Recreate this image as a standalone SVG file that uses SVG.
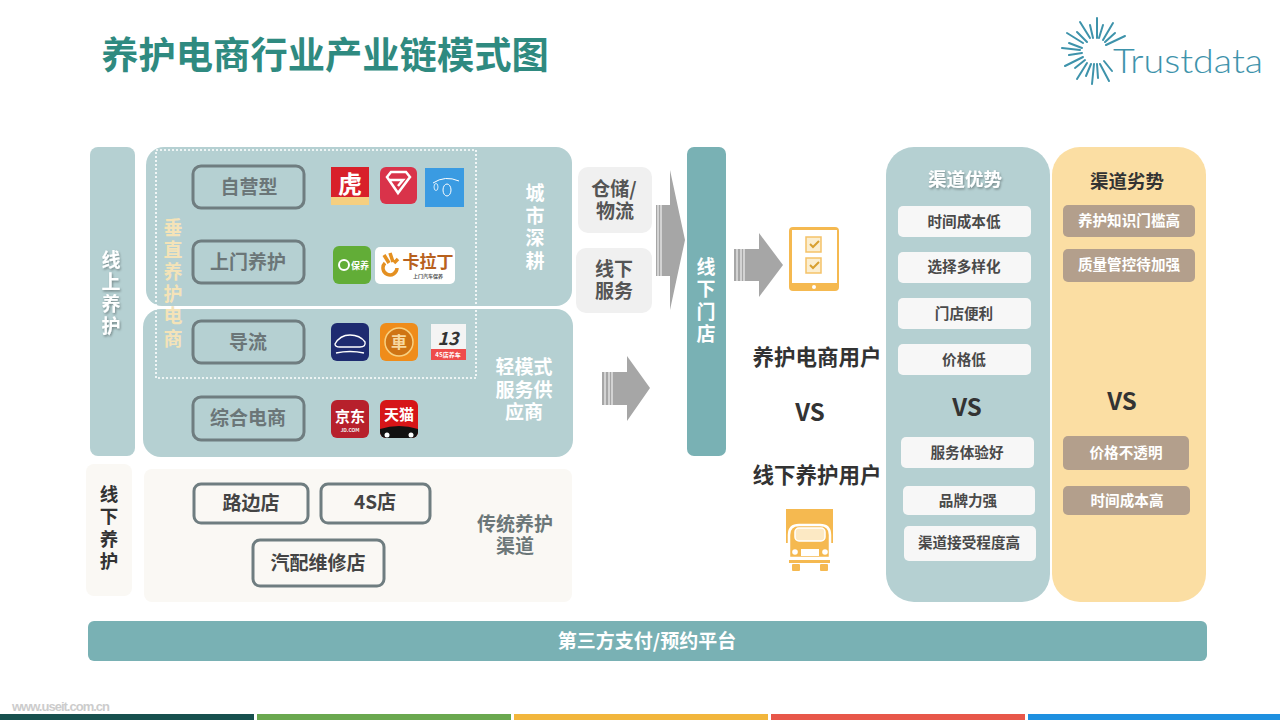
<svg xmlns="http://www.w3.org/2000/svg" width="1280" height="720" viewBox="0 0 1280 720">
<defs><filter id="sh" x="-30%" y="-30%" width="160%" height="160%"><feDropShadow dx="1" dy="1.5" stdDeviation="1.2" flood-color="#000" flood-opacity=".35"/></filter></defs>
<style>
text{font-family:"Noto Sans CJK SC","Liberation Sans",sans-serif;text-anchor:middle;font-weight:700}
.v{writing-mode:vertical-rl;text-anchor:start}
.t{fill:#b5d0d2}.box{fill:none;stroke:#6f7d80;stroke-width:3}
.g{fill:#6b7678;font-size:19px}.w{fill:#fff;font-size:19px}.k{fill:#333;font-size:21.5px}.s{fill:#555;font-size:19px}.n{fill:#444;font-size:19px}
.cw{fill:#f7f7f7}.ct{fill:#4a4a4a;font-size:14.6px}.br{fill:#b39f8c}.bw{fill:#fff;font-size:14.6px}
.o{fill:#f5b950}.a{fill:#a6a6a6}.ray{stroke:#3e93ab;stroke-width:2;stroke-linecap:round}
</style>
<rect width="1280" height="720" fill="#fff"/>
<text id="title" x="325" y="69" font-size="37.3" fill="#2f8a80">养护电商行业产业链模式图</text>
<g id="logo"><path class="ray" d="M1097 18V38M1090 25L1093 38M1080 22L1090 38M1077 32L1087 42M1067 33L1083 43M1069 43L1082 48M1062 48L1080 50M1069 55L1082 53M1065 66L1083 57M1075 68L1085 60M1077 79L1087 63M1086 76L1091 64M1092 84L1094 64M1098 78L1097 64M1109 81L1100 64M1112 71L1104 61M1099 38L1103 25M1103 40L1113 23M1105 42L1115 33M1106 45L1125 36"/>
<text x="1188" y="73" font-size="34" fill="#3e93ab" style="font-family:Lato,'Liberation Sans',sans-serif;font-weight:300" textLength="150" lengthAdjust="spacingAndGlyphs">Trustdata</text></g>
<g id="online"><rect class="t" x="90" y="147" width="45" height="309" rx="8"/><text class="w v" x="111" y="250.3" letter-spacing="3" filter="url(#sh)">线上养护</text></g>
<g id="city"><path class="t" d="M164 147H556a16 16 0 0 1 16 16V290a16 16 0 0 1-16 16H162a16 16 0 0 1-16-16V165a18 18 0 0 1 18-18z"/><text class="w v" x="535" y="183.3" letter-spacing="3.5">城市深耕</text></g>
<g id="light"><path class="t" d="M161 309H556a17 17 0 0 1 17 17V440a17 17 0 0 1-17 17H161a18 18 0 0 1-18-18V327a18 18 0 0 1 18-18z"/><text class="w"><tspan x="524" y="374">轻模式</tspan><tspan x="524" dy="23">服务供</tspan><tspan x="524" dy="22">应商</tspan></text></g>
<g id="n1"><rect class="box" x="193" y="166" width="111" height="42" rx="8"/><text class="g" x="249" y="194">自营型</text></g>
<g id="n2"><rect class="box" x="193" y="241" width="111" height="42" rx="8"/><text class="g" x="248" y="269">上门养护</text></g>
<g id="n3"><rect class="box" x="193" y="321" width="111" height="42" rx="8"/><text class="g" x="248" y="349">导流</text></g>
<g id="n4"><rect class="box" x="193" y="397" width="111" height="43" rx="8"/><text class="g" x="248" y="425">综合电商</text></g>
<rect id="vertical" x="156" y="150" width="320" height="228" fill="none" stroke="#fff" stroke-width="1.6" stroke-dasharray="2 2"/>
<g id="vlabel"><text class="v" x="173" y="218.3" fill="#f4e3b8" font-size="19" letter-spacing="3.1">垂直养护电商</text></g>
<g id="apps">
<rect x="331" y="167" width="38" height="38" fill="#d8202a"/><rect x="331" y="197" width="38" height="8" fill="#f5cf80"/><text x="350" y="193" font-size="24" fill="#fff">虎</text>
<rect x="380" y="167" width="37" height="37" rx="6" fill="#d9334a"/><path d="M387 177L391 172H406L410 177L398 193ZM390 180H403L398 186" fill="none" stroke="#fff" stroke-width="2.5"/>
<rect x="425" y="168" width="39" height="39" fill="#3a9be2"/><ellipse cx="447" cy="190" rx="4" ry="6" fill="none" stroke="#fff"/><ellipse cx="436" cy="187" rx="2" ry="3.5" fill="none" stroke="#fff" stroke-width=".8"/><path d="M433 183Q445 175 459 181" fill="none" stroke="#fff"/>
<rect x="333" y="246" width="38" height="38" rx="6" fill="#62ad37"/><circle cx="344" cy="265" r="5" fill="none" stroke="#fff" stroke-width="2"/><text x="360" y="269" font-size="9" fill="#fff">保养</text>
<rect x="375" y="247" width="80" height="37" rx="5" fill="#fff"/><text x="428" y="268" font-size="17" fill="#b8611d">卡拉丁</text><text x="428" y="278" font-size="5" fill="#555">上门汽车保养</text><path d="M385 263a7 7 0 1 0 12 5M390 253L393 262M384 255L389 263M398 259L394 263" fill="none" stroke="#e49021" stroke-width="3.5"/>
<rect x="331" y="323" width="38" height="38" rx="6" fill="#1e2b70"/><path d="M335 344Q340 335 350 335Q360 335 365 342Q366 347 360 347H340Q335 347 335 344ZM336 353Q350 350 364 353" fill="none" stroke="#fff" stroke-width="1.4"/>
<rect x="380" y="323" width="38" height="38" rx="6" fill="#ef8c1a"/><circle cx="399" cy="342" r="14" fill="#cf7414" stroke="#f7d080" stroke-width="1.5"/><text x="399" y="348" font-size="16" fill="#f7d8a0">車</text>
<rect x="431" y="324" width="35" height="36" fill="#f4f4f4"/><rect x="431" y="349" width="35" height="11" fill="#ee4b4b"/><text x="448" y="345" font-size="18" fill="#333" font-style="italic">13</text><text x="448" y="357" font-size="6" fill="#fff">4S店养车</text>
<rect x="331" y="400" width="38" height="38" rx="6" fill="#b7202c"/><text x="350" y="422" font-size="15" fill="#fff">京东</text><text x="350" y="432" font-size="5" fill="#eee">JD.COM</text>
<rect x="380" y="400" width="38" height="38" rx="6" fill="#d61518"/><text x="399" y="420" font-size="15" fill="#fff">天猫</text><path d="M380 429Q399 423 418 429V432a6 6 0 0 1-6 6H386a6 6 0 0 1-6-6z" fill="#111"/><circle cx="387" cy="435" r="2.5" fill="#fff"/><circle cx="411" cy="435" r="2.5" fill="#fff"/>
</g>
<g id="offline"><rect x="86" y="464" width="46" height="132" rx="8" fill="#faf8f4"/><text class="v" x="109" y="484.7" fill="#333" font-size="18.5" letter-spacing="3.8">线下养护</text></g>
<g id="trad"><rect x="144" y="469" width="428" height="133" rx="8" fill="#faf8f4"/><text font-size="19" fill="#6b7678"><tspan x="515" y="531">传统养护</tspan><tspan x="515" dy="22">渠道</tspan></text></g>
<g id="n5"><rect class="box" x="194" y="484" width="114" height="39" rx="7"/><text class="n" x="251" y="510">路边店</text></g>
<g id="n6"><rect class="box" x="321" y="484" width="109" height="39" rx="7"/><text class="n" x="375" y="509">4S店</text></g>
<g id="n7"><rect class="box" x="253" y="540" width="131" height="46" rx="7"/><text class="n" x="318" y="570">汽配维修店</text></g>
<g id="store1"><rect x="578" y="167" width="74" height="66" rx="10" fill="#f0f0f0"/><text class="s"><tspan x="614" y="196">仓储/</tspan><tspan x="615" dy="22">物流</tspan></text></g>
<g id="store2"><rect x="576" y="248" width="76" height="65" rx="10" fill="#f0f0f0"/><text class="s"><tspan x="614" y="276">线下</tspan><tspan x="614" dy="22">服务</tspan></text></g>
<g id="connectors">
<path class="a" d="M670 170L685 240L670 310V276H656V205H670Z"/><path d="M658 205V276M661 205V276" stroke="#fff"/>
<path class="a" d="M627 356L650 388L627 421V405H602V372H627Z"/><path d="M605 372V405M609 372V405M612 372V405" stroke="#fff"/>
<path class="a" d="M759 233L783 265L759 297V281H734V249H759Z"/><path d="M737 249V281M741 249V281M744 249V281" stroke="#fff"/>
</g>
<g id="shop"><rect x="687" y="147" width="39" height="309" rx="7" fill="#79b1b4"/><text class="w v" x="706" y="257.3" letter-spacing="3.4">线下门店</text></g>
<g id="tablet"><rect x="789" y="227" width="50" height="64" rx="4" fill="#f5b950"/><rect x="792" y="230" width="45" height="53" fill="#fff"/><circle cx="814" cy="287" r="2" fill="#fff"/><rect x="806" y="237" width="15" height="15" fill="#fbeed0" stroke="#f5c268" stroke-width="1.5"/><rect x="806" y="258" width="15" height="15" fill="#fbeed0" stroke="#f5c268" stroke-width="1.5"/><path d="M810 244l3 3l6-6M810 265l3 3l6-6" stroke="#d8a030" stroke-width="2" fill="none"/></g>
<g id="users"><text class="k" x="817" y="365">养护电商用户</text><text x="810" y="421" font-size="24" fill="#333">VS</text><text class="k" x="817" y="483">线下养护用户</text></g>
<g id="truck"><rect class="o" x="786" y="509" width="47" height="34"/><path d="M789 558V535Q789 525 799 525H820Q830 525 830 535V558Z" class="o" stroke="#fff" stroke-width="2.5"/><rect x="795" y="528" width="30" height="13" rx="4" fill="#fce9c4" stroke="#fff" stroke-width="1.5"/><rect x="801" y="549" width="18" height="7" fill="#fff"/><circle cx="795" cy="552" r="2.8" fill="#fff"/><circle cx="825" cy="552" r="2.8" fill="#fff"/><rect class="o" x="789" y="560" width="41" height="3"/><rect class="o" x="792" y="564" width="8" height="7" rx="1"/><rect class="o" x="820" y="564" width="8" height="7" rx="1"/></g>
<g id="adv"><rect class="t" x="886" y="147" width="164" height="455" rx="28"/><text x="965" y="186" font-size="18.5" fill="#fff" filter="url(#sh)">渠道优势</text><text x="967" y="416" font-size="24" fill="#333">VS</text></g>
<g id="dis"><rect x="1052" y="147" width="154" height="455" rx="28" fill="#fbdea3"/><text x="1127" y="188" font-size="18.5" fill="#333">渠道劣势</text><text x="1122" y="410" font-size="24" fill="#333">VS</text></g>
<g id="a1"><rect class="cw" x="898" y="206" width="133" height="31" rx="5"/><text class="ct" x="964" y="227">时间成本低</text></g>
<g id="a2"><rect class="cw" x="898" y="252" width="133" height="31" rx="5"/><text class="ct" x="964" y="272">选择多样化</text></g>
<g id="a3"><rect class="cw" x="898" y="298" width="133" height="31" rx="5"/><text class="ct" x="964" y="319">门店便利</text></g>
<g id="a4"><rect class="cw" x="898" y="344" width="133" height="31" rx="5"/><text class="ct" x="964" y="365">价格低</text></g>
<g id="a5"><rect class="cw" x="901" y="437" width="133" height="31" rx="5"/><text class="ct" x="967" y="458">服务体验好</text></g>
<g id="a6"><rect class="cw" x="903" y="486" width="132" height="29" rx="5"/><text class="ct" x="968" y="506">品牌力强</text></g>
<g id="a7"><rect class="cw" x="904" y="526" width="132" height="35" rx="5"/><text class="ct" x="969" y="548">渠道接受程度高</text></g>
<g id="b1"><rect class="br" x="1063" y="205" width="132" height="32" rx="5"/><text class="bw" x="1129" y="226">养护知识门槛高</text></g>
<g id="b2"><rect class="br" x="1063" y="249" width="132" height="33" rx="5"/><text class="bw" x="1129" y="270">质量管控待加强</text></g>
<g id="b3"><rect class="br" x="1063" y="436" width="126" height="34" rx="5"/><text class="bw" x="1126" y="458">价格不透明</text></g>
<g id="b4"><rect class="br" x="1063" y="486" width="127" height="29" rx="5"/><text class="bw" x="1127" y="506">时间成本高</text></g>
<g id="platform"><rect x="88" y="621" width="1119" height="40" rx="6" fill="#79b1b4"/><text x="647" y="648" font-size="19" fill="#fff">第三方支付/预约平台</text></g>
<text id="wm" x="61" y="711" font-size="13" fill="#ccc" style="font-family:'Liberation Sans',sans-serif;font-weight:700" textLength="98">www.useit.com.cn</text>
<g id="bars"><rect x="0" y="714" width="254" height="6" fill="#17504e"/><rect x="257" y="714" width="254" height="6" fill="#6aa84f"/><rect x="514" y="714" width="254" height="6" fill="#f2b63c"/><rect x="771" y="714" width="254" height="6" fill="#e8574a"/><rect x="1028" y="714" width="252" height="6" fill="#1e90e0"/></g>
</svg>
